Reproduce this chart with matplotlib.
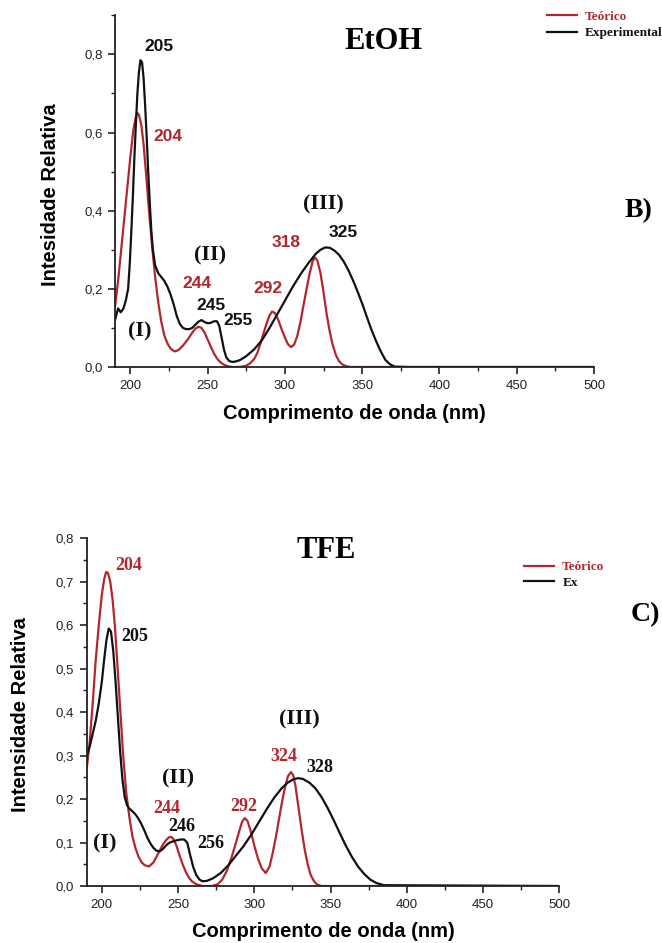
import matplotlib
matplotlib.use("Agg")
import matplotlib.pyplot as plt
from matplotlib.ticker import MultipleLocator, FuncFormatter

# ---------------- data ----------------
# EtOH panel (B)
etoh_exp_x = [190, 192, 193.7, 195.5, 197, 198.5, 199.5, 200.5, 201.5, 202.5, 203.5, 204.5, 205.5,
              206.5, 207.5, 208.5, 209.5, 210.5, 211.5, 212.5, 213.5, 214.5, 216, 218, 220, 222, 224,
              226, 228, 230, 232, 234, 236, 238, 240, 242, 244, 246, 248, 250, 252, 254, 256, 257.5,
              259, 260.5, 262, 264, 266, 268, 271, 275, 280, 285, 290, 295, 300, 305, 310, 315, 320,
              323, 326, 329, 332, 335, 338, 341, 344, 347, 350, 353, 356, 359, 362, 365, 368, 371,
              380, 500]
etoh_exp_y = [0.12, 0.15, 0.14, 0.15, 0.17, 0.2, 0.26, 0.34, 0.43, 0.53, 0.62, 0.70, 0.755,
              0.785, 0.78, 0.74, 0.67, 0.59, 0.5, 0.42, 0.35, 0.3, 0.26, 0.24, 0.23, 0.22, 0.205,
              0.185, 0.16, 0.13, 0.11, 0.1, 0.097, 0.097, 0.1, 0.108, 0.116, 0.12, 0.115, 0.112,
              0.113, 0.117, 0.117, 0.105, 0.075, 0.045, 0.025, 0.015, 0.013, 0.014, 0.018, 0.028,
              0.045, 0.068, 0.1, 0.135, 0.17, 0.205, 0.237, 0.265, 0.29, 0.3, 0.306, 0.305, 0.298,
              0.287, 0.27, 0.248, 0.222, 0.193, 0.162, 0.128, 0.095, 0.066, 0.04, 0.018, 0.007,
              0.001, 0, 0]
etoh_teo_x = [190, 192, 194, 196, 198, 200, 202, 203.5, 204.5, 205.5, 207, 208.5, 210, 212, 214,
              216, 218, 220, 222, 224, 226, 228.5, 231, 234, 237, 240, 242, 244, 246, 248, 250, 252,
              254, 256, 258, 260, 263, 266, 270, 274, 277, 280, 282, 284, 286, 288, 290, 291.7,
              293.5, 295.5, 298, 300, 302, 304, 306, 308, 310, 312, 314, 316, 318, 319.5, 321, 323,
              325, 327, 329, 331, 333, 335, 337, 339, 342, 346, 500]
etoh_teo_y = [0.155, 0.22, 0.3, 0.38, 0.46, 0.54, 0.61, 0.64, 0.65, 0.645, 0.62, 0.57, 0.5, 0.4,
              0.31, 0.23, 0.165, 0.115, 0.08, 0.06, 0.047, 0.04, 0.043, 0.055, 0.07, 0.088, 0.098,
              0.103, 0.1, 0.088, 0.07, 0.052, 0.035, 0.022, 0.013, 0.007, 0.002, 0, 0, 0.002, 0.008,
              0.02, 0.035, 0.058, 0.085, 0.11, 0.132, 0.142, 0.138, 0.122, 0.095, 0.075, 0.058,
              0.051, 0.058, 0.08, 0.115, 0.158, 0.2, 0.24, 0.272, 0.28, 0.272, 0.24, 0.19, 0.135,
              0.09, 0.055, 0.03, 0.015, 0.007, 0.003, 0, 0, 0]

# TFE panel (C)
tfe_exp_x = [190, 192, 194, 196, 198, 200, 201.5, 203, 204.5, 206, 207.5, 209, 210.5, 212, 213.5,
             215, 216.5, 218, 220, 222, 224, 226, 228, 230, 232, 234, 236, 238, 240, 242, 244, 246,
             248, 250, 252, 254, 256, 258, 260, 262, 264, 266, 269, 273, 278, 283, 288, 293, 298,
             303, 308, 313, 318, 322, 326, 329, 332, 336, 340, 344, 348, 352, 356, 360, 364, 368,
             372, 376, 380, 385, 500]
tfe_exp_y = [0.298, 0.32, 0.35, 0.38, 0.42, 0.47, 0.52, 0.565, 0.592, 0.585, 0.54, 0.47, 0.39,
             0.31, 0.245, 0.205, 0.186, 0.178, 0.172, 0.165, 0.155, 0.142, 0.127, 0.11, 0.097,
             0.087, 0.081, 0.08, 0.085, 0.093, 0.099, 0.102, 0.104, 0.106, 0.107, 0.107, 0.1,
             0.07, 0.043, 0.025, 0.015, 0.011, 0.012, 0.018, 0.03, 0.048, 0.07, 0.092, 0.118,
             0.147, 0.176, 0.203, 0.225, 0.238, 0.246, 0.248, 0.246, 0.238, 0.225, 0.205, 0.18,
             0.152, 0.122, 0.093, 0.067, 0.045, 0.028, 0.015, 0.007, 0.002, 0]
tfe_teo_x = [190, 192, 194, 196, 198, 200, 201.5, 202.8, 204, 205.5, 207, 208.5, 210, 212, 214,
             216, 218, 220, 222, 224, 226, 228, 231, 234, 237, 240, 242, 244, 245.5, 247, 249, 251,
             253, 255, 257, 259, 262, 266, 272, 276, 279, 282, 285, 288, 290, 292, 293.7, 295.5,
             297.5, 300, 302.5, 305, 307.5, 310, 312, 314, 316, 318, 320, 322, 324, 325.5, 327,
             329, 331, 333, 335, 337, 339, 341, 344, 348, 500]
tfe_teo_y = [0.267, 0.33, 0.42, 0.52, 0.6, 0.67, 0.705, 0.722, 0.72, 0.7, 0.66, 0.6, 0.52, 0.41,
             0.3, 0.215, 0.16, 0.115, 0.088, 0.068, 0.055, 0.048, 0.045, 0.055, 0.075, 0.095,
             0.105, 0.112, 0.113, 0.108, 0.092, 0.07, 0.05, 0.033, 0.02, 0.011, 0.004, 0, 0,
             0.004, 0.015, 0.035, 0.065, 0.1, 0.125, 0.148, 0.156, 0.15, 0.128, 0.093, 0.062,
             0.04, 0.03, 0.045, 0.075, 0.11, 0.15, 0.19, 0.225, 0.252, 0.262, 0.255, 0.23, 0.18,
             0.13, 0.085, 0.05, 0.025, 0.012, 0.004, 0, 0, 0]

# annotations: (text, x nm, y value, colour key)
etoh_labels = [("205", 209, 0.82, "k"), ("204", 215, 0.59, "r"), ("244", 233.5, 0.213, "r"),
               ("245", 242.5, 0.158, "k"), ("255", 260, 0.118, "k"), ("292", 279.5, 0.2, "r"),
               ("318", 291.5, 0.319, "r"), ("325", 328.5, 0.345, "k")]
etoh_roman = [("(I)", 198.5, 0.09), ("(II)", 241, 0.285), ("(III)", 311.5, 0.417)]
tfe_labels = [("204", 209, 0.736, "r"), ("205", 213, 0.574, "k"), ("244", 234, 0.179, "r"),
              ("246", 243.8, 0.137, "k"), ("256", 262.5, 0.098, "k"), ("292", 284, 0.184, "r"),
              ("324", 310.3, 0.298, "r"), ("328", 333.8, 0.273, "k")]
tfe_roman = [("(I)", 194, 0.098), ("(II)", 239.5, 0.248), ("(III)", 316.5, 0.382)]

xlabel_text = "Comprimento de onda (nm)"
ylabel_top = "Intesidade Relativa"
ylabel_bottom = "Intensidade Relativa"

RED = "#b3262c"
BLACK = "#111111"
COL = {"r": RED, "k": BLACK}
SANS = "Liberation Sans"
SERIF = "Liberation Serif"

fig = plt.figure(figsize=(6.62, 9.43), dpi=100)
fig.patch.set_facecolor("white")

comma = FuncFormatter(lambda v, p: f"{v:.1f}".replace(".", ","))


def style_axes(ax, ymax, ymajor, yminor):
    ax.set_xlim(190, 500)
    ax.set_ylim(0, ymax)
    for s in ("top", "right"):
        ax.spines[s].set_visible(False)
    for s in ("left", "bottom"):
        ax.spines[s].set_linewidth(1.3)
        ax.spines[s].set_color("#222222")
    ax.xaxis.set_major_locator(MultipleLocator(50))
    ax.xaxis.set_minor_locator(MultipleLocator(25))
    ax.yaxis.set_major_locator(MultipleLocator(ymajor))
    ax.yaxis.set_minor_locator(MultipleLocator(yminor))
    ax.yaxis.set_major_formatter(comma)
    ax.tick_params(which="major", direction="out", length=5, width=1.2, color="#222222",
                   labelsize=9.5, labelcolor="#222222", pad=4)
    ax.tick_params(which="minor", direction="out", length=3, width=1.0, color="#222222")
    for lab in ax.get_xticklabels() + ax.get_yticklabels():
        lab.set_fontfamily(SANS)


# ---------------- top panel: EtOH ----------------
ax1 = fig.add_axes([0.1737, 0.6108, 0.7236, 0.373])
ax1.plot(etoh_teo_x, etoh_teo_y, color=RED, lw=1.6, label="Teórico", solid_joinstyle="round")
ax1.plot(etoh_exp_x, etoh_exp_y, color=BLACK, lw=1.6, label="Experimental", solid_joinstyle="round")
style_axes(ax1, 0.9, 0.2, 0.1)
ax1.set_yticks([0, 0.2, 0.4, 0.6, 0.8])
for t, x, y, c in etoh_labels:
    ax1.text(x, y, t, color=COL[c], fontfamily=SANS, fontweight="bold", fontsize=12.5,
             ha="left", va="center")
for t, x, y in etoh_roman:
    ax1.text(x, y, t, color=BLACK, fontfamily=SERIF, fontweight="bold", fontsize=16,
             ha="left", va="center")
ax1.legend(loc="upper left", bbox_to_anchor=(0.826, 0.989), bbox_transform=fig.transFigure,
           frameon=False, prop={"family": SERIF, "weight": "bold", "size": 9.5},
           labelcolor="linecolor", handlelength=2.3, handletextpad=0.6, borderpad=0,
           borderaxespad=0, labelspacing=0.35)
fig.text(0.58, 0.956, "EtOH", fontfamily=SERIF, fontweight="bold", fontsize=22,
         ha="center", va="center")
fig.text(0.944, 0.777, "B)", fontfamily=SERIF, fontweight="bold", fontsize=20,
         ha="left", va="center")
fig.text(0.5355, 0.562, xlabel_text, fontfamily=SANS, fontweight="bold", fontsize=14.5,
         ha="center", va="center")
fig.text(0.0766, 0.794, ylabel_top, fontfamily=SANS, fontweight="bold", fontsize=14.5,
         rotation=90, ha="center", va="center")

# ---------------- bottom panel: TFE ----------------
ax2 = fig.add_axes([0.1308, 0.0604, 0.714, 0.369])
ax2.plot(tfe_teo_x, tfe_teo_y, color=RED, lw=1.6, label="Teórico", solid_joinstyle="round")
ax2.plot(tfe_exp_x, tfe_exp_y, color=BLACK, lw=1.6, label="Ex", solid_joinstyle="round")
style_axes(ax2, 0.8, 0.1, 0.05)
for t, x, y, c in tfe_labels:
    ax2.text(x, y, t, color=COL[c], fontfamily=SERIF, fontweight="bold", fontsize=13,
             ha="left", va="center")
for t, x, y in tfe_roman:
    ax2.text(x, y, t, color=BLACK, fontfamily=SERIF, fontweight="bold", fontsize=16,
             ha="left", va="center")
ax2.legend(loc="upper left", bbox_to_anchor=(0.7915, 0.405), bbox_transform=fig.transFigure,
           frameon=False, prop={"family": SERIF, "weight": "bold", "size": 9.5},
           labelcolor="linecolor", handlelength=2.3, handletextpad=0.6, borderpad=0,
           borderaxespad=0, labelspacing=0.25)
fig.text(0.4925, 0.4167, "TFE", fontfamily=SERIF, fontweight="bold", fontsize=22,
         ha="center", va="center")
fig.text(0.953, 0.348, "C)", fontfamily=SERIF, fontweight="bold", fontsize=20,
         ha="left", va="center")
fig.text(0.488, 0.0125, xlabel_text, fontfamily=SANS, fontweight="bold", fontsize=14.5,
         ha="center", va="center")
fig.text(0.0317, 0.2418, ylabel_bottom, fontfamily=SANS, fontweight="bold", fontsize=14.5,
         rotation=90, ha="center", va="center")

fig.savefig("out.png", dpi=100, facecolor="white")
